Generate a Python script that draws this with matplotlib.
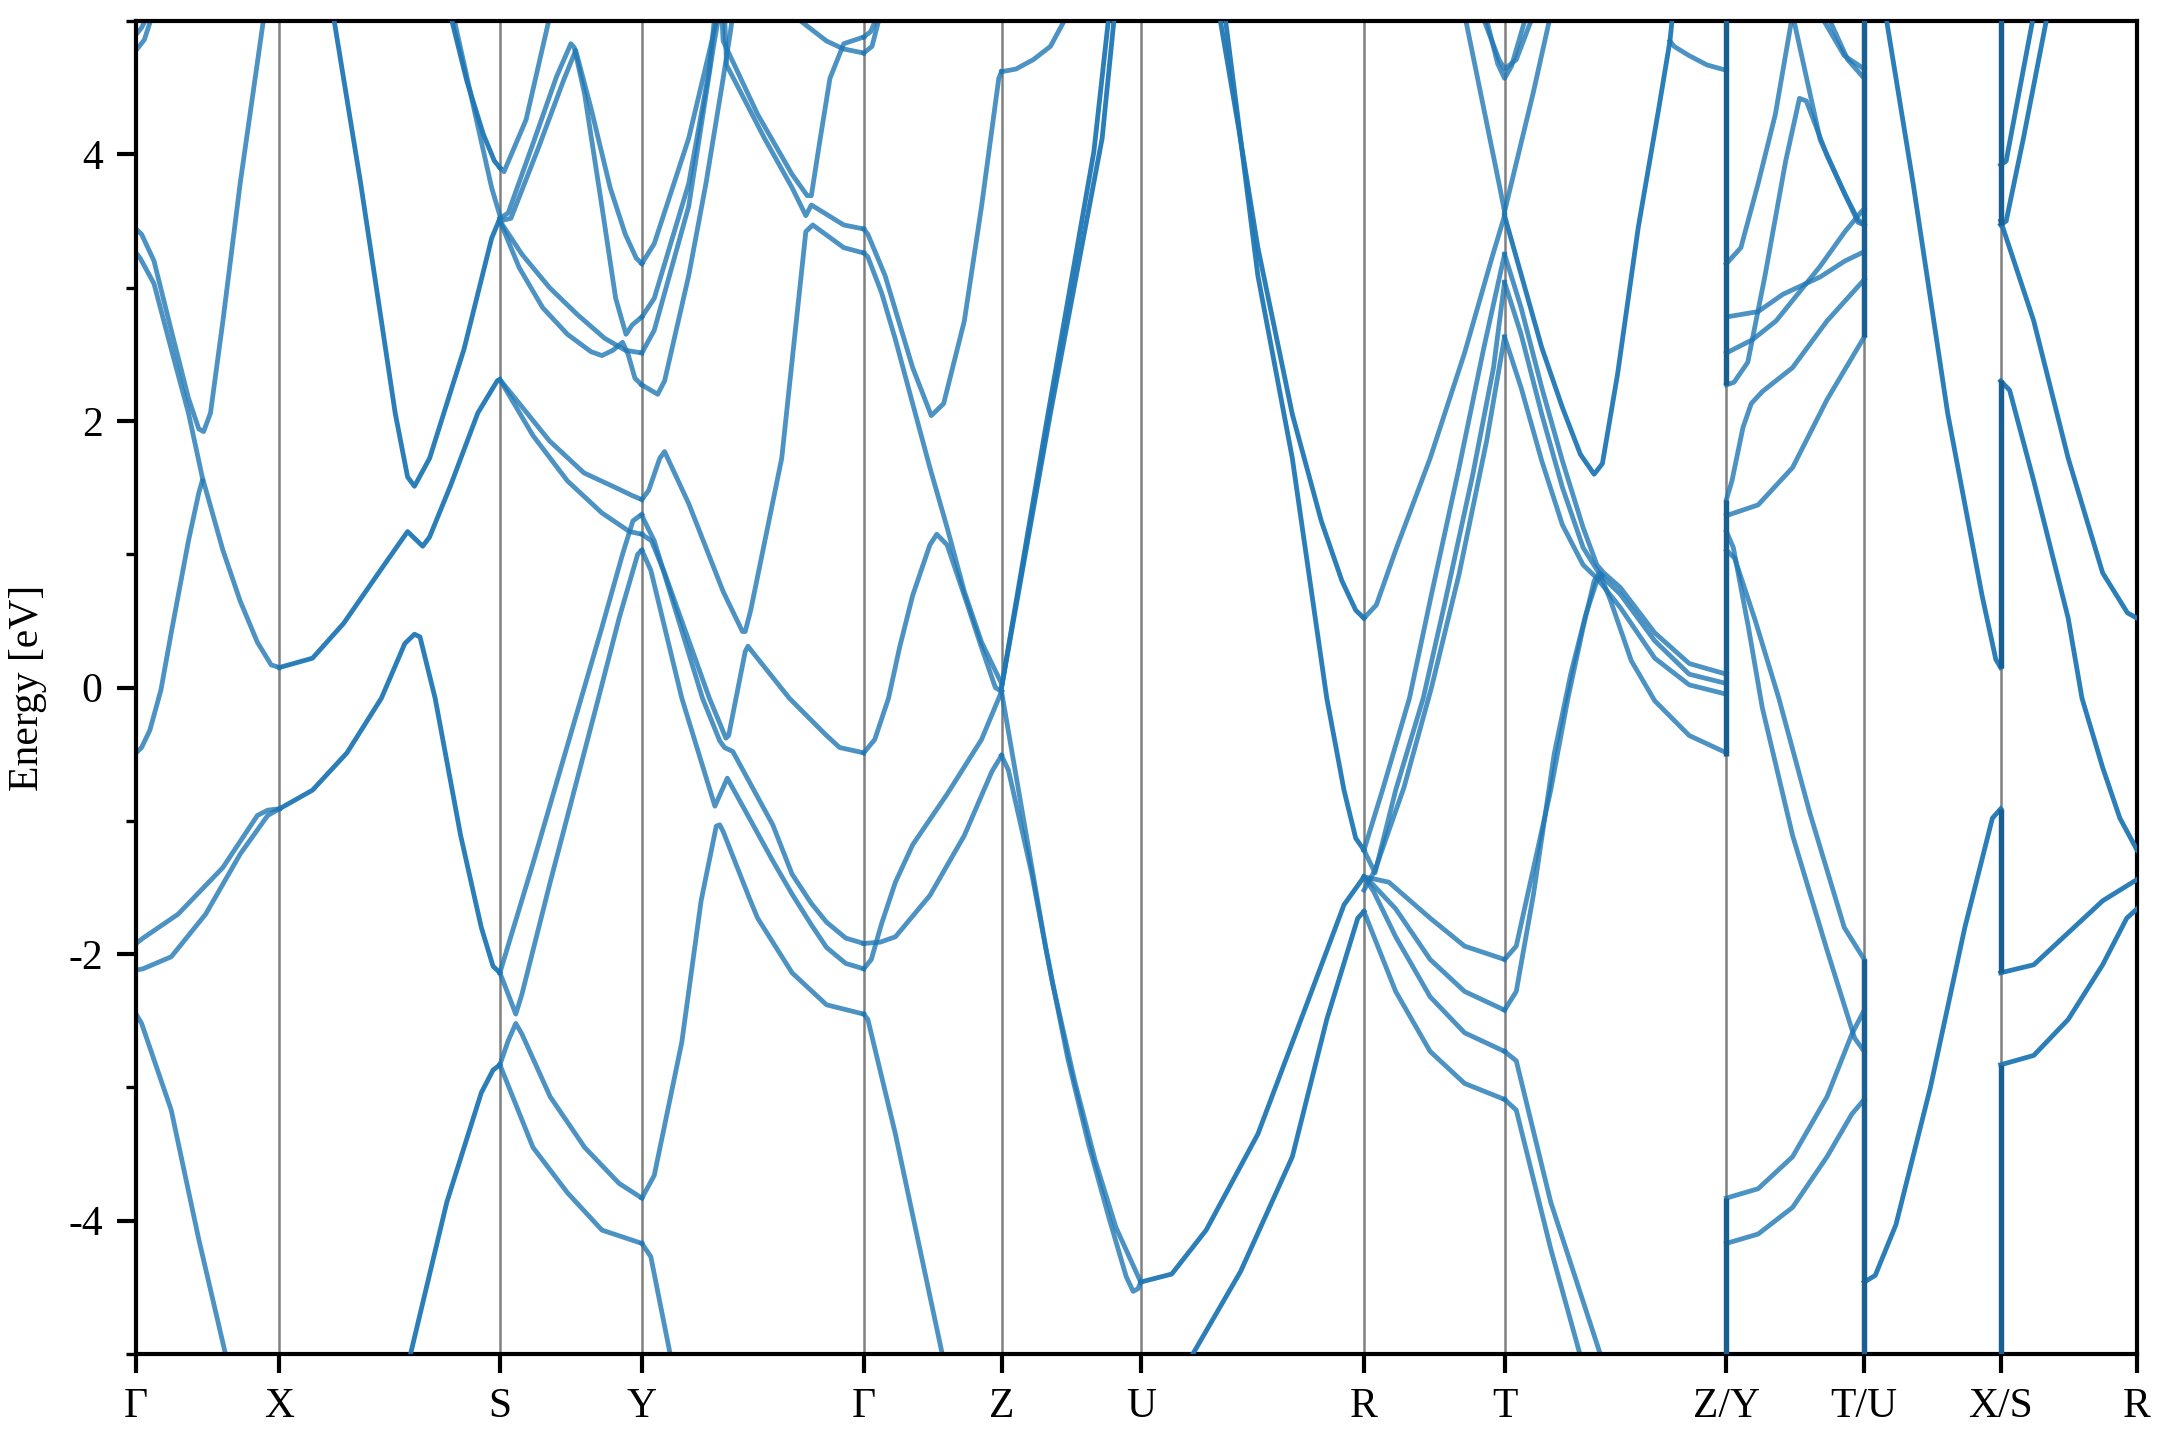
import numpy as np
import matplotlib
matplotlib.use('Agg')
import matplotlib.pyplot as plt
from matplotlib.ticker import MultipleLocator

plt.rcParams['font.family'] = ['Liberation Serif', 'DejaVu Serif']
plt.rcParams['axes.unicode_minus'] = False

# high-symmetry points along the k-path
kpt_labels = ['Γ', 'X', 'S', 'Y', 'Γ', 'Z', 'U', 'R', 'T', 'Z/Y', 'T/U', 'X/S', 'R']
kpt_pos = [0.0, 1.04, 2.64, 3.67, 5.28, 6.28, 7.29, 8.91, 9.93, 11.54, 12.54, 13.53, 14.52]

# bands, as (k, E[eV]) points, segment by segment
# "light" = single band, "dark" = degenerate / overlapping bands
gx_light = [
    [(0, 4.78), (0.06, 4.86), (0.12, 5.05)],
    [(0, 4.90), (0.04, 4.95), (0.09, 5.05)],
    [(0, 3.44), (0.04, 3.40), (0.13, 3.20), (0.255, 2.68), (0.38, 2.17), (0.455, 1.94), (0.49, 1.92),
     (0.54, 2.06), (0.63, 2.75), (0.755, 3.78), (0.93, 5.05)],
    [(0, 3.26), (0.03, 3.22), (0.13, 3.03), (0.255, 2.54), (0.38, 2.06), (0.48, 1.58), (0.63, 1.03),
     (0.755, 0.65), (0.88, 0.34), (0.98, 0.17), (1.04, 0.15)],
    [(0, -0.49), (0.04, -0.45), (0.10, -0.32), (0.18, -0.02), (0.255, 0.41), (0.38, 1.10), (0.455, 1.46),
     (0.48, 1.55)],
    [(0, -1.92), (0.05, -1.88), (0.305, -1.70), (0.63, -1.35), (0.88, -0.96), (0.955, -0.92), (1.04, -0.91)],
    [(0, -2.12), (0.05, -2.11), (0.255, -2.02), (0.505, -1.70), (0.755, -1.25), (0.955, -0.96), (1.04, -0.91)],
    [(0, -2.45), (0.04, -2.52), (0.255, -3.17), (0.455, -4.14), (0.66, -5.05)],
]

xs_light = [
    [(2.30, 5.05), (2.45, 4.35), (2.58, 3.75), (2.64, 3.54)],
]
xs_dark = [
    [(1.04, 0.15), (1.28, 0.22), (1.505, 0.48), (1.78, 0.89), (1.97, 1.17), (2.08, 1.06), (2.13, 1.13),
     (2.28, 1.51), (2.48, 2.06), (2.62, 2.30), (2.64, 2.31)],
    [(1.04, -0.91), (1.28, -0.77), (1.53, -0.49), (1.78, -0.08), (1.95, 0.33), (2.02, 0.40), (2.06, 0.38),
     (2.17, -0.08), (2.355, -1.11), (2.505, -1.80), (2.59, -2.09), (2.64, -2.14)],
    [(1.43, 5.05), (1.63, 3.78), (1.78, 2.75), (1.88, 2.06), (1.97, 1.58), (2.02, 1.51), (2.13, 1.72),
     (2.38, 2.54), (2.58, 3.37), (2.64, 3.52)],
    [(2.28, 5.05), (2.40, 4.55), (2.52, 4.15), (2.60, 3.95), (2.64, 3.90)],
    [(1.98, -5.05), (2.255, -3.86), (2.505, -3.04), (2.59, -2.87), (2.64, -2.83)],
]

sy_light = [
    [(2.64, 3.90), (2.67, 3.87), (2.83, 4.26), (3.005, 5.05)],
    [(2.64, 3.52), (2.70, 3.56), (2.88, 4.08), (3.05, 4.58), (3.155, 4.83), (3.18, 4.80), (3.255, 4.45),
     (3.38, 3.61), (3.48, 2.92), (3.555, 2.65), (3.60, 2.72), (3.67, 2.78)],
    [(2.64, 3.50), (2.72, 3.52), (2.92, 4.05), (3.10, 4.55), (3.19, 4.78), (3.30, 4.35), (3.44, 3.75),
     (3.55, 3.40), (3.63, 3.22), (3.67, 3.18)],
    [(2.64, 3.50), (2.78, 3.15), (2.95, 2.85), (3.13, 2.65), (3.30, 2.52), (3.38, 2.49), (3.46, 2.53),
     (3.53, 2.59), (3.57, 2.50), (3.62, 2.32), (3.67, 2.27)],
    [(2.64, 3.50), (2.80, 3.25), (3.00, 3.00), (3.20, 2.80), (3.40, 2.62), (3.55, 2.53), (3.67, 2.51)],
    [(2.64, 2.31), (2.75, 2.17), (3.00, 1.85), (3.25, 1.61), (3.50, 1.49), (3.60, 1.44), (3.67, 1.41)],
    [(2.64, 2.31), (2.88, 1.89), (3.13, 1.55), (3.38, 1.31), (3.58, 1.17), (3.67, 1.15)],
    [(2.64, -2.14), (2.88, -1.32), (3.23, -0.08), (3.38, 0.45), (3.53, 1.00), (3.605, 1.25), (3.67, 1.30)],
    [(2.64, -2.14), (2.70, -2.30), (2.755, -2.45), (2.80, -2.30), (3.005, -1.46), (3.355, -0.08),
     (3.505, 0.52), (3.64, 1.00), (3.67, 1.03)],
    [(2.64, -2.83), (2.70, -2.65), (2.755, -2.52), (2.80, -2.60), (3.005, -3.07), (3.255, -3.45),
     (3.505, -3.72), (3.67, -3.83)],
    [(2.64, -2.83), (2.88, -3.45), (3.13, -3.79), (3.38, -4.07), (3.67, -4.17)],
]

yg_light = [
    [(3.67, 3.18), (3.76, 3.33), (4.01, 4.12), (4.185, 4.88), (4.22, 5.05)],
    [(3.67, 2.78), (3.76, 2.92), (4.01, 3.78), (4.16, 4.64), (4.20, 5.05)],
    [(3.67, 2.51), (3.76, 2.68), (4.01, 3.61), (4.19, 4.81), (4.23, 5.05)],
    [(3.67, 2.27), (3.785, 2.20), (3.835, 2.30), (4.01, 3.09), (4.135, 3.78), (4.26, 4.57), (4.31, 4.90),
     (4.33, 5.05)],
    [(4.25, 5.05), (4.26, 4.85), (4.51, 4.30), (4.76, 3.85), (4.87, 3.69), (4.90, 3.69), (4.96, 4.09),
     (5.035, 4.57), (5.135, 4.83), (5.28, 4.88)],
    [(4.27, 5.05), (4.285, 4.67), (4.56, 4.12), (4.76, 3.75), (4.86, 3.54), (4.90, 3.62), (5.135, 3.47),
     (5.28, 3.44)],
    [(3.67, 1.41), (3.72, 1.48), (3.80, 1.72), (3.835, 1.77), (4.01, 1.38), (4.26, 0.72), (4.40, 0.42),
     (4.42, 0.42), (4.46, 0.58), (4.685, 1.72), (4.86, 3.42), (4.91, 3.47), (5.135, 3.30), (5.28, 3.26)],
    [(4.76, 5.05), (5.01, 4.85), (5.135, 4.79), (5.28, 4.76)],
    [(3.67, 1.15), (3.74, 1.10), (3.835, 0.86), (4.16, -0.08), (4.28, -0.38), (4.30, -0.36), (4.42, 0.27),
     (4.44, 0.31), (4.47, 0.27), (4.74, -0.08), (5.0, -0.35), (5.105, -0.45), (5.28, -0.49)],
    [(3.67, 1.29), (3.76, 1.10), (4.11, -0.08), (4.235, -0.40), (4.27, -0.45), (4.33, -0.48), (4.62, -1.03),
     (4.76, -1.40), (4.90, -1.62), (5.01, -1.76), (5.15, -1.88), (5.28, -1.92)],
    [(3.67, 1.03), (3.735, 0.88), (3.96, -0.08), (4.20, -0.89), (4.29, -0.68), (4.45, -0.98), (4.62, -1.30),
     (4.76, -1.55), (4.90, -1.78), (5.01, -1.95), (5.15, -2.07), (5.28, -2.11)],
    [(3.67, -3.83), (3.76, -3.66), (3.96, -2.66), (4.10, -1.60), (4.21, -1.04), (4.235, -1.03),
     (4.26, -1.08), (4.45, -1.58), (4.51, -1.73), (4.76, -2.14), (5.01, -2.38), (5.28, -2.45)],
    [(3.67, -4.17), (3.735, -4.27), (3.885, -5.05)],
]

gz_light = [
    [(5.28, 4.88), (5.33, 4.92), (5.385, 5.05)],
    [(5.28, 4.76), (5.34, 4.81), (5.40, 5.05)],
    [(5.28, 3.44), (5.31, 3.40), (5.435, 3.09), (5.635, 2.40), (5.77, 2.04), (5.86, 2.13), (6.01, 2.75),
     (6.135, 3.61), (6.26, 4.57), (6.28, 4.62)],
    [(5.28, 3.26), (5.31, 3.23), (5.41, 2.96), (5.51, 2.61), (5.635, 2.13), (5.76, 1.65), (5.885, 1.20),
     (6.01, 0.72), (6.135, 0.34), (6.28, 0.03)],
    [(5.28, -0.49), (5.36, -0.39), (5.46, -0.08), (5.54, 0.30), (5.635, 0.69), (5.76, 1.07), (5.81, 1.15),
     (5.885, 1.07), (6.01, 0.69), (6.135, 0.30), (6.235, 0.0), (6.28, -0.03)],
    [(5.28, -1.92), (5.40, -1.91), (5.51, -1.87), (5.76, -1.56), (6.01, -1.11), (6.21, -0.63), (6.28, -0.51)],
    [(5.28, -2.11), (5.335, -2.04), (5.41, -1.77), (5.51, -1.46), (5.635, -1.18), (5.885, -0.80),
     (6.135, -0.39), (6.28, -0.03)],
    [(5.28, -2.45), (5.31, -2.49), (5.51, -3.35), (5.86, -5.05)],
]

zu_light = [
    [(6.28, 4.62), (6.385, 4.64), (6.51, 4.71), (6.635, 4.81), (6.76, 5.05)],
    [(6.28, -0.03), (6.30, -0.15), (6.45, -1.05), (6.60, -1.95), (6.76, -2.78), (6.91, -3.42), (7.06, -3.98),
     (7.185, -4.42), (7.235, -4.53), (7.27, -4.51), (7.29, -4.46)],
    [(6.28, -0.51), (6.33, -0.62), (6.50, -1.40), (6.65, -2.22), (6.81, -2.95), (6.96, -3.55), (7.11, -4.05),
     (7.29, -4.46)],
]
zu_dark = [
    [(6.28, 0.0), (6.635, 2.06), (7.01, 4.12), (7.10, 5.05)],
    [(6.28, 0.0), (6.60, 1.95), (6.95, 4.02), (7.06, 5.05)],
]

ur_dark = [
    [(7.86, 5.05), (8.0, 4.2), (8.14, 3.3), (8.39, 2.05), (8.60, 1.25), (8.75, 0.80), (8.85, 0.58), (8.91, 0.52)],
    [(7.90, 5.05), (8.14, 3.09), (8.39, 1.72), (8.64, -0.08), (8.765, -0.77), (8.85, -1.13), (8.91, -1.22)],
    [(7.29, -4.46), (7.515, -4.40), (7.765, -4.07), (8.14, -3.35), (8.515, -2.32), (8.765, -1.63),
     (8.91, -1.42)],
    [(7.64, -5.05), (8.015, -4.38), (8.39, -3.52), (8.64, -2.49), (8.865, -1.73), (8.91, -1.68)],
]

rt_light = [
    [(8.91, 0.52), (9.0, 0.62), (9.14, 1.03), (9.39, 1.72), (9.64, 2.51), (9.84, 3.23), (9.93, 3.54)],
    [(8.91, -1.22), (9.05, -0.75), (9.24, -0.08), (9.40, 0.70), (9.60, 1.65), (9.78, 2.55), (9.93, 3.25)],
    [(8.91, -1.22), (8.99, -1.39), (9.14, -0.77), (9.34, -0.08), (9.50, 0.65), (9.70, 1.60), (9.85, 2.40),
     (9.93, 3.04)],
    [(8.91, -1.52), (8.99, -1.37), (9.20, -0.75), (9.40, 0.0), (9.60, 0.85), (9.80, 1.85), (9.93, 2.63)],
    [(8.91, -1.42), (9.09, -1.46), (9.39, -1.73), (9.64, -1.94), (9.93, -2.04)],
    [(8.94, -1.44), (9.14, -1.66), (9.39, -2.04), (9.64, -2.28), (9.93, -2.42)],
    [(8.91, -1.42), (8.98, -1.53), (9.14, -1.87), (9.39, -2.32), (9.64, -2.59), (9.93, -2.73)],
    [(8.91, -1.68), (9.14, -2.28), (9.39, -2.73), (9.64, -2.97), (9.93, -3.09)],
    [(9.64, 5.05), (9.89, 3.78), (9.93, 3.57)],
    [(9.765, 5.05), (9.89, 4.71), (9.93, 4.64), (10.015, 4.71), (10.14, 5.05)],
    [(9.79, 5.05), (9.88, 4.68), (9.93, 4.57), (9.98, 4.66), (10.09, 5.05)],
]

tz_light = [
    [(9.93, 3.57), (10.14, 4.47), (10.265, 5.05)],
    [(11.13, 4.85), (11.16, 4.81), (11.27, 4.74), (11.40, 4.67), (11.54, 4.63)],
    [(9.93, 3.25), (10.05, 2.85), (10.20, 2.25), (10.35, 1.70), (10.50, 1.20), (10.60, 0.92), (10.65, 0.86),
     (10.77, 0.75), (11.02, 0.41), (11.27, 0.18), (11.54, 0.10)],
    [(9.93, 3.04), (10.05, 2.65), (10.20, 2.05), (10.35, 1.50), (10.50, 1.05), (10.62, 0.85), (10.77, 0.70),
     (11.02, 0.35), (11.27, 0.10), (11.54, 0.03)],
    [(9.93, 2.63), (10.05, 2.25), (10.20, 1.70), (10.35, 1.22), (10.50, 0.92), (10.60, 0.82), (10.77, 0.60),
     (11.02, 0.22), (11.27, 0.02), (11.54, -0.05)],
    [(9.93, -2.04), (10.015, -1.94), (10.265, -0.77), (10.39, -0.08), (10.50, 0.45), (10.58, 0.80),
     (10.62, 0.86), (10.70, 0.65), (10.85, 0.20), (11.02, -0.10), (11.27, -0.36), (11.54, -0.49)],
    [(9.93, -2.42), (10.015, -2.28), (10.14, -1.55), (10.29, -0.50), (10.41, 0.10), (10.52, 0.55),
     (10.60, 0.80), (10.64, 0.84)],
    [(9.93, -2.73), (10.015, -2.80), (10.265, -3.86), (10.64, -5.05)],
    [(9.93, -3.09), (10.015, -3.17), (10.265, -4.21), (10.49, -5.05)],
]
tz_dark = [
    [(9.93, 3.54), (10.05, 3.10), (10.20, 2.55), (10.35, 2.10), (10.48, 1.75), (10.58, 1.60), (10.64, 1.68),
     (10.75, 2.35), (10.90, 3.45), (11.05, 4.35), (11.13, 4.85), (11.15, 5.05)],
]

zt_light = [
    [(11.54, 3.18), (11.645, 3.30), (11.77, 3.78), (11.895, 4.30), (12.02, 5.05)],
    [(11.54, 2.78), (11.77, 2.82), (11.95, 2.95), (12.22, 3.08), (12.40, 3.20), (12.54, 3.27)],
    [(11.54, 2.51), (11.73, 2.61), (11.90, 2.75), (12.22, 3.16), (12.40, 3.42), (12.52, 3.57), (12.54, 3.59)],
    [(11.54, 2.27), (11.595, 2.29), (11.695, 2.44), (11.82, 3.09), (11.97, 3.95), (12.07, 4.42),
     (12.12, 4.40), (12.27, 3.99), (12.395, 3.71), (12.495, 3.51), (12.54, 3.47)],
    [(11.54, 1.41), (11.58, 1.55), (11.66, 1.95), (11.72, 2.13), (11.80, 2.22), (12.02, 2.40), (12.27, 2.75),
     (12.54, 3.06)],
    [(11.54, 1.29), (11.77, 1.37), (12.02, 1.65), (12.27, 2.16), (12.54, 2.63)],
    [(12.02, 5.05), (12.22, 4.11), (12.40, 3.70), (12.495, 3.49), (12.54, 3.47)],
    [(12.22, 5.05), (12.395, 4.74), (12.54, 4.64)],
    [(12.27, 5.05), (12.42, 4.71), (12.54, 4.57)],
    [(11.54, 1.17), (11.59, 1.05), (11.70, 0.45), (11.80, -0.15), (12.02, -1.11), (12.27, -1.97),
     (12.47, -2.63), (12.54, -2.73)],
    [(11.54, 1.03), (11.60, 0.97), (11.75, 0.50), (11.92, -0.08), (12.145, -0.94), (12.395, -1.80),
     (12.54, -2.04)],
    [(11.54, -3.83), (11.77, -3.76), (12.02, -3.52), (12.27, -3.07), (12.45, -2.60), (12.54, -2.42)],
    [(11.54, -4.17), (11.77, -4.10), (12.02, -3.90), (12.27, -3.52), (12.45, -3.20), (12.54, -3.09)],
]

tx_dark = [
    [(12.695, 5.05), (12.895, 3.78), (13.145, 2.06), (13.395, 0.69), (13.495, 0.21), (13.53, 0.15)],
    [(12.54, -4.46), (12.62, -4.41), (12.77, -4.03), (13.02, -3.00), (13.27, -1.80), (13.47, -0.98),
     (13.53, -0.91)],
]

sr_dark = [
    [(13.53, 3.92), (13.57, 3.95), (13.77, 5.05)],
    [(13.53, 3.47), (13.57, 3.50), (13.695, 4.12), (13.87, 5.05)],
    [(13.53, 3.50), (13.77, 2.75), (14.02, 1.72), (14.27, 0.86), (14.45, 0.56), (14.52, 0.52)],
    [(13.53, 2.30), (13.595, 2.23), (13.77, 1.55), (14.02, 0.52), (14.12, -0.08), (14.27, -0.60),
     (14.395, -0.98), (14.52, -1.22)],
    [(13.53, -2.14), (13.77, -2.08), (14.02, -1.84), (14.27, -1.60), (14.52, -1.44)],
    [(13.53, -2.83), (13.77, -2.76), (14.02, -2.49), (14.27, -2.08), (14.445, -1.73), (14.52, -1.66)],
]

# band jumps at the path breaks (k, E_low, E_high)
jump_k = [11.54, 11.54, 11.54, 12.54, 12.54, 13.53, 13.53, 13.53, 13.53]
jump_lo = [2.27, -0.51, -5.05, 2.63, -5.05, 3.47, 0.15, -2.14, -5.05]
jump_hi = [5.05, 1.41, -3.83, 5.05, -2.04, 5.05, 2.31, -0.91, -2.83]

light = gx_light + xs_light + sy_light + yg_light + gz_light + zu_light + rt_light + tz_light + zt_light
dark = xs_dark + zu_dark + ur_dark + tz_dark + tx_dark + sr_dark

fig = plt.figure(figsize=(7.2, 4.8), dpi=300)
ax = fig.add_axes([0.063, 0.0597, 0.9264, 0.9257])

for k in kpt_pos[1:-1]:
    ax.axvline(k, color='0.5', lw=0.6, zorder=1)

for band in light:
    k, e = zip(*band)
    ax.plot(k, e, color='C0', alpha=0.8, lw=1.15, zorder=2, solid_joinstyle='round')
for band in dark:
    k, e = zip(*band)
    ax.plot(k, e, color='C0', alpha=0.95, lw=1.15, zorder=3, solid_joinstyle='round')
ax.vlines(jump_k, jump_lo, jump_hi, color='#1a5f91', lw=1.3, zorder=4)

ax.set_xlim(kpt_pos[0], kpt_pos[-1])
ax.set_ylim(-5, 5)
ax.set_xticks(kpt_pos)
ax.set_xticklabels(kpt_labels)
ax.yaxis.set_major_locator(MultipleLocator(2))
ax.yaxis.set_minor_locator(MultipleLocator(1))
ax.tick_params(axis='both', which='major', direction='out', length=4.5, width=1.0, labelsize=10)
ax.tick_params(axis='y', which='minor', direction='out', length=2.5, width=0.8)
for sp in ax.spines.values():
    sp.set_linewidth(1.0)
ax.set_ylabel('Energy [eV]', fontsize=10, labelpad=5)

fig.savefig('out.png', dpi=300)
